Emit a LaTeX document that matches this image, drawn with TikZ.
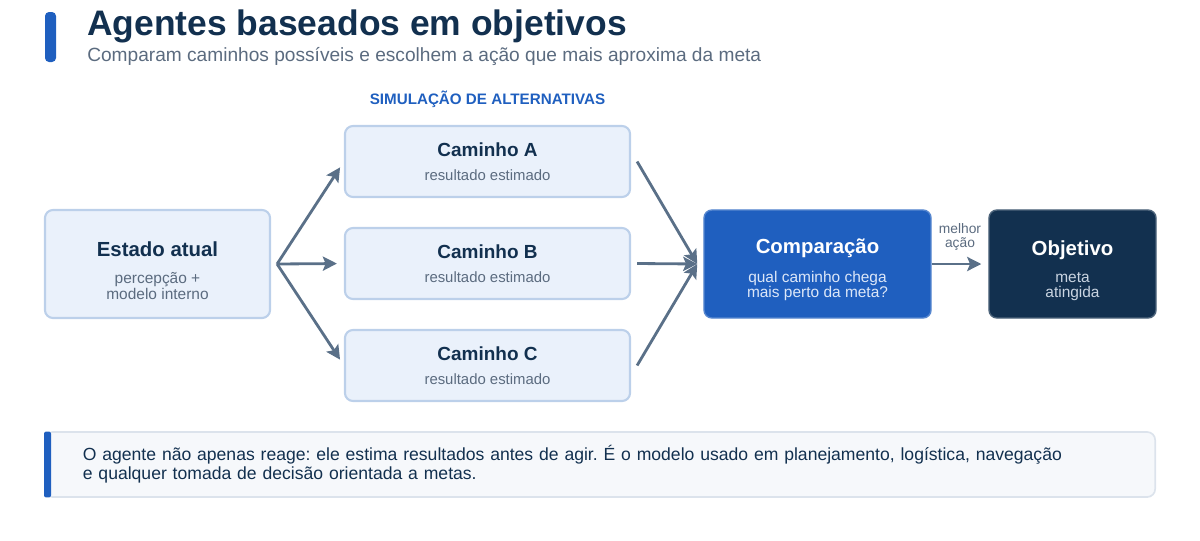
\documentclass[tikz,border=0pt]{standalone}
\usepackage{fontspec}
\setmainfont{Liberation Sans}
\frenchspacing
\usetikzlibrary{arrows.meta,positioning}
\definecolor{accent}{HTML}{1F5FBF}
\definecolor{navy}{HTML}{12304F}
\definecolor{slate}{HTML}{5B6B7F}
\definecolor{wire}{HTML}{5A7088}
\definecolor{pale}{HTML}{EAF1FB}
\definecolor{paleedge}{HTML}{BCD0EA}
\definecolor{notefill}{HTML}{F6F8FB}
\definecolor{noteedge}{HTML}{DCE3EC}
\definecolor{compsub}{HTML}{DCE7F8}
\definecolor{objsub}{HTML}{C9D4E1}
\newcommand{\headtext}[3]{{\fontsize{#1}{#1}\selectfont\bfseries\color{#2}#3}}
\tikzset{
    box/.style={draw=paleedge, line width=1.5pt, fill=pale, rounded corners=0.2cm,
        align=center, inner sep=0pt, text=slate, font=\fontsize{10.6}{11}\selectfont},
    bigbox/.style={box, minimum height=2.7cm, text height=50pt, font=\fontsize{11}{10.8}\selectfont},
    conn/.style={wire, line width=2pt, ->},
}
\begin{document}
\begin{tikzpicture}[x=0.025cm, y=-0.025cm, >={Stealth[length=10pt,width=10pt,inset=2pt]}]
    \useasboundingbox (0,0) rectangle (1200,540);
    \fill[accent, rounded corners=0.1cm] (45,12) rectangle (56,62);
    \node[anchor=base west, inner sep=0pt, text=navy, font=\fontsize{25.2}{28}\selectfont\bfseries] (titulo) at (87,35) {Agentes baseados em objetivos};
    \node[anchor=base west, inner sep=0pt, text=slate, font=\fontsize{13.6}{16}\selectfont] (subtitulo) at (87,61) {Comparam caminhos possíveis e escolhem a ação que mais aproxima da meta};

    \node[bigbox, minimum width=5.625cm] (estado) at (157.5,264) {\headtext{14.5}{navy}{Estado atual}\\[8.5pt]percepção +\\modelo interno};

    \node[box, minimum width=7.125cm, minimum height=1.775cm] (caminhoA) at (487.5,161.5) {\headtext{13.5}{navy}{Caminho A}\\[6pt]resultado estimado};
    \node[box, minimum width=7.125cm, minimum height=1.775cm] (caminhoB) at (487.5,263.5) {\headtext{13.5}{navy}{Caminho B}\\[6pt]resultado estimado};
    \node[box, minimum width=7.125cm, minimum height=1.775cm] (caminhoC) at (487.5,365.5) {\headtext{13.5}{navy}{Caminho C}\\[6pt]resultado estimado};
    \node[text=accent, font=\fontsize{10.8}{12}\selectfont\bfseries] (simulacao) at (487.5,99) {SIMULAÇÃO DE ALTERNATIVAS};

    \node[bigbox, draw=accent!75!white, line width=1pt, fill=accent, text=compsub, minimum width=5.675cm] (comparacao) at (817.5,264) {\headtext{14.5}{white}{Comparação}\\[8.5pt]qual caminho chega\\mais perto da meta?};
    \node[bigbox, draw=navy!75!white, line width=1pt, fill=navy, text=objsub, minimum width=4.175cm] (objetivo) at (1072.5,264) {\headtext{14.5}{white}{Objetivo}\\[8.5pt]meta\\atingida};

    \coordinate (fork) at ([xshift=0.15cm]estado.east);
    \coordinate (join) at ([xshift=-0.15cm]comparacao.west);
    \draw[conn, shorten >=0.175cm] (fork) -- (caminhoA.west);
    \draw[conn, shorten >=0.175cm] (fork) -- (caminhoB.west);
    \draw[conn, shorten >=0.175cm] (fork) -- (caminhoC.west);
    \draw[conn] ([xshift=0.15cm]caminhoA.east) -- (join);
    \draw[conn] ([xshift=0.15cm]caminhoB.east) -- (join);
    \draw[conn] ([xshift=0.15cm]caminhoC.east) -- (join);
    \draw[conn, shorten >=0.175cm] (comparacao.east) -- node[above=0.18cm, align=center, text=slate, font=\fontsize{9.8}{10.2}\selectfont] {melhor\\ação} (objetivo.west);

    \node[fill=notefill, draw=noteedge, line width=1.2pt, rounded corners=0.2cm, minimum width=27.75cm, minimum height=1.625cm, text width=25.85cm, inner xsep=0.95cm, align=left, text=navy, font=\fontsize{12.5}{13.6}\selectfont] (nota) at (600,464.5) {O agente não apenas reage: ele estima resultados antes de agir. É o modelo usado em planejamento, logística, navegação\\e qualquer tomada de decisão orientada a metas.};
    \fill[accent, rounded corners=1.5pt] ([yshift=-0.3pt]nota.north west) rectangle ([xshift=0.175cm,yshift=0.3pt]nota.south west);
\end{tikzpicture}
\end{document}
